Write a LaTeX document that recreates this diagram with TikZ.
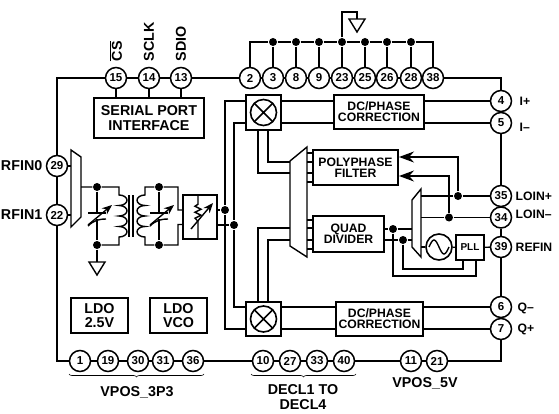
\documentclass[tikz,border=0pt]{standalone}
\usepackage{fontspec}
\setmainfont{Liberation Sans}
\usetikzlibrary{arrows.meta,decorations.pathreplacing}
\tikzset{
    testoG/.style={font=\fontsize{14.3}{14.5}\selectfont\bfseries, align=center, inner sep=0pt},
    testoM/.style={font=\fontsize{12.2}{11}\selectfont\bfseries, align=center, inner sep=0pt},
    piedino/.style={circle, draw, line width=1.5pt, fill=white, minimum size=21pt, inner sep=0pt, font=\fontsize{11.5}{12}\selectfont\bfseries},
    punto/.style={circle, fill=black, inner sep=0pt, minimum size=8pt},
    blocco/.style={draw, line width=1.5pt, inner sep=0pt},
    telaio/.style={line width=2.4pt},
    graffa/.style={line width=0.6pt, decorate, decoration={brace, mirror, amplitude=3pt}},
    prodotto/.style={circle, draw, line width=1.6pt, minimum size=26pt, inner sep=0pt,
        path picture={\draw[line width=1.6pt] (path picture bounding box.south west) -- (path picture bounding box.north east)
        (path picture bounding box.north west) -- (path picture bounding box.south east);}},
    massa/.pic={\draw (-8,0) -- (8,0) -- (0,13) -- cycle;},
    varcap/.pic={
        \draw (-9,-3) -- (9,-3);
        \draw (-9,10) .. controls (-3,4) and (3,3) .. (9,3);
        \draw[-{Stealth[length=10pt,width=8pt]}] (-9,9) -- (15,-11);
    }
}
\begin{document}
\begin{tikzpicture}[x=1pt, y=-1pt, line width=1.4pt, >={Stealth[length=15pt,width=11pt]}]
    \useasboundingbox (0,0) rectangle (559,414);

    % Piedini sui quattro lati
    \foreach \n/\x in {15/116,14/149,13/181,2/250,3/273,8/296,9/319,23/342,25/365,26/387,28/411,38/433} {
        \node[piedino] (p\n) at (\x,78) {\n};
    }
    \foreach \n/\x in {1/80,19/108,30/138,31/163,36/193,10/263,27/290,33/317,40/344,11/411,21/437} {
        \node[piedino] (p\n) at (\x,361) {\n};
    }
    \foreach \n/\y in {29/166,22/215} {
        \node[piedino] (p\n) at (57,\y) {\n};
    }
    \foreach \n/\y in {4/101,5/123,35/196,34/217.5,39/247,6/307,7/329} {
        \node[piedino] (p\n) at (501,\y) {\n};
    }

    % Telaio del chip, da piedino a piedino
    \foreach \a/\b in {15/14,14/13,13/2,2/3,3/8,8/9,9/23,23/25,25/26,26/28,28/38,4/5,5/35,35/34,34/39,39/6,6/7,
        1/19,19/30,30/31,31/36,36/10,10/27,27/33,33/40,40/11,11/21,29/22} {
        \draw[telaio] (p\a) -- (p\b);
    }
    \draw[telaio] (p38) -| (p4);
    \draw[telaio] (p7) |- (p21);
    \draw[telaio] (p22) |- (p1);
    \draw[telaio] (p29) |- (p15);

    % Etichette dei piedini
    \node[testoG, rotate=90, anchor=west] (lblCS) at (116,62) {$\overline{\hbox{CS}}$};
    \node[testoG, rotate=90, anchor=west] (lblSCLK) at (149,62) {SCLK};
    \node[testoG, rotate=90, anchor=west] (lblSDIO) at (181,62) {SDIO};
    \node[testoG, anchor=east] (lblRFa) at (43,166) {RFIN0};
    \node[testoG, anchor=east] (lblRFb) at (43,215) {RFIN1};
    \node[testoM, anchor=west] (lblIp) at (519,101) {I+};
    \node[testoM, anchor=west] (lblIm) at (519,127) {I–};
    \node[testoM, anchor=west] (lblLOp) at (515,196) {LOIN+};
    \node[testoM, anchor=west] (lblLOm) at (515,214) {LOIN–};
    \node[testoM, anchor=west] (lblREF) at (515,247) {REFIN};
    \node[testoM, anchor=west] (lblQm) at (517,308) {Q–};
    \node[testoM, anchor=west] (lblQp) at (517,329) {Q+};

    % Graffe in basso
    \draw[graffa] (69,374) -- (204,374);
    \draw[graffa] (251,374) -- (356,374);
    \node[testoG] (lblV33) at (137,392) {VPOS\_3P3};
    \node[testoG] (lblDECL) at (303,397) {DECL1 TO\\DECL4};
    \node[testoG] (lblV5) at (425,383) {VPOS\_5V};

    % Massa in alto
    \node[punto] (dT3) at (273,42) {};
    \node[punto] (dT8) at (296,42) {};
    \node[punto] (dT9) at (319,42) {};
    \node[punto] (dT23) at (342,42) {};
    \node[punto] (dT25) at (365,42) {};
    \node[punto] (dT26) at (387,42) {};
    \node[punto] (dT28) at (411,42) {};
    \draw (p2) |- (dT3);
    \draw (dT3) -- (dT8) -- (dT9) -- (dT23) -- (dT25) -- (dT26) -- (dT28);
    \draw (dT28) -| (p38);
    \foreach \n in {3,8,9,23,25,26,28} {
        \draw (dT\n) -- (p\n);
    }
    \coordinate (gndT) at (357,19);
    \draw (dT23) |- (gndT |- 0,12) -- (gndT);
    \pic at (gndT) {massa};

    % Blocchi con testo
    \node[blocco, testoG, minimum width=110pt, minimum height=40pt] (spi) at (149,118) {SERIAL PORT\\INTERFACE};
    \node[blocco, testoG, minimum width=57pt, minimum height=35pt] (ldoA) at (99.5,315.5) {LDO\\2.5V};
    \node[blocco, testoG, minimum width=57pt, minimum height=35pt] (ldoB) at (178.5,315.5) {LDO\\VCO};
    \node[blocco, testoM, minimum width=90pt, minimum height=34pt] (dcI) at (379,112) {DC/PHASE\\CORRECTION};
    \node[blocco, testoM, minimum width=87pt, minimum height=34pt] (dcQ) at (379.5,319) {DC/PHASE\\CORRECTION};
    \node[blocco, testoM, minimum width=85pt, minimum height=35pt] (ppf) at (355.5,167.5) {POLYPHASE\\FILTER};
    \node[blocco, testoM, minimum width=71pt, minimum height=36pt] (quad) at (348.5,234) {QUAD\\DIVIDER};
    \node[blocco, font=\fontsize{10}{10}\selectfont\bfseries, minimum width=28pt, minimum height=25pt] (pll) at (470,247.5) {PLL};
    \foreach \n in {15,14,13} {
        \draw (p\n) -- (spi.north -| p\n);
    }

    % Miscelatori
    \node[blocco, minimum width=35pt, minimum height=35pt] (mixI) at (263.5,112.5) {};
    \node[blocco, minimum width=35pt, minimum height=34pt] (mixQ) at (263.5,319) {};
    \node[prodotto] (xI) at (mixI) {};
    \node[prodotto] (xQ) at (mixQ) {};

    % Multiplexer
    \coordinate (muxRa) at (71,150);
    \coordinate (muxRb) at (81,157);
    \coordinate (muxRc) at (81,217);
    \coordinate (muxRd) at (71,227);
    \draw (muxRa) -- (muxRb) -- (muxRc) -- (muxRd) -- cycle;
    \coordinate (muxCa) at (290,161);
    \coordinate (muxCb) at (307,147);
    \coordinate (muxCc) at (307,257);
    \coordinate (muxCd) at (290,246);
    \draw (muxCa) -- (muxCb) -- (muxCc) -- (muxCd) -- cycle;
    \coordinate (muxLa) at (412,200);
    \coordinate (muxLb) at (421,189);
    \coordinate (muxLc) at (421,257);
    \coordinate (muxLd) at (412,247);
    \draw (muxLa) -- (muxLb) -- (muxLc) -- (muxLd) -- cycle;
    \draw (p29) -- (muxRa |- p29);
    \draw (p22) -- (muxRa |- p22);
    \foreach \y in {153,162,173,182} {
        \draw (muxCb |- 0,\y) -- (ppf.west |- 0,\y);
    }
    \foreach \y in {220,228,240,249} {
        \draw (muxCb |- 0,\y) -- (quad.west |- 0,\y);
    }

    % Parte a radiofrequenza
    \node[punto] (dR1) at (97,187) {};
    \node[punto] (dR2) at (97,245) {};
    \node[punto] (dR3) at (159,187) {};
    \node[punto] (dR4) at (159,245) {};
    \draw (muxRb |- dR1) -- (dR1) -- (119,187) -- (119,195)
        arc[start angle=-90, end angle=90, x radius=8, y radius=5.25]
        arc[start angle=-90, end angle=90, x radius=8, y radius=5.25]
        arc[start angle=-90, end angle=90, x radius=8, y radius=5.25]
        arc[start angle=-90, end angle=90, x radius=8, y radius=5.25]
        -- (119,245) -- (dR2);
    \draw (129,195) -- (129,237) (133,195) -- (133,237);
    \draw (217,210) -- (178,210) -- (178,187) -- (dR3) -- (145,187) -- (145,195)
        arc[start angle=-90, end angle=-270, x radius=8, y radius=5.25]
        arc[start angle=-90, end angle=-270, x radius=8, y radius=5.25]
        arc[start angle=-90, end angle=-270, x radius=8, y radius=5.25]
        arc[start angle=-90, end angle=-270, x radius=8, y radius=5.25]
        -- (145,245) -- (dR4) -- (178,245) -- (178,224.5) -- (217,224.5);
    \draw (dR1) -- (97,213) (97,219) -- (dR2);
    \draw (dR3) -- (159,213) (159,219) -- (dR4);
    \pic at (97,216) {varcap};
    \pic at (159,216) {varcap};
    \draw (dR2) -- (97,262);
    \pic at (97,262) {massa};

    % Attenuatore
    \node[blocco, fill=white, minimum width=34pt, minimum height=44pt] (att) at (200,217) {};
    \draw (att.north) ++(-2,0) -- ++(0,10) -- ++(-3,2) -- ++(6,3) -- ++(-6,3) -- ++(6,3) -- ++(-6,3) -- ++(3,3) -- (att.south -| 198,0);
    \draw[-{Stealth[length=10pt,width=8pt]}] (191,229) -- (213,203);
    \node[punto] (dA) at (225,210) {};
    \node[punto] (dB) at (234,225) {};
    \draw (att.east |- dA) -- (dA);
    \draw (att.east |- dB) -- (dB);

    % Collegamenti dei miscelatori
    \draw (mixI.west |- p4) -| (dA);
    \draw (mixI.west |- p5) -| (dB);
    \draw (mixQ.west |- p7) -| (dA);
    \draw (mixQ.west |- p6) -| (dB);
    \draw (mixI.east |- p4) -- (dcI.west |- p4);
    \draw (mixI.east |- p5) -- (dcI.west |- p5);
    \draw (dcI.east |- p4) -- (p4);
    \draw (dcI.east |- p5) -- (p5);
    \draw (mixQ.east |- p6) -- (dcQ.west |- p6);
    \draw (mixQ.east |- p7) -- (dcQ.west |- p7);
    \draw (dcQ.east |- p6) -- (p6);
    \draw (dcQ.east |- p7) -- (p7);
    \coordinate (mixIa) at (258,130);
    \coordinate (mixIb) at (268,130);
    \coordinate (mixQa) at (258,302);
    \coordinate (mixQb) at (268,302);
    \draw (mixIa) |- (muxCa |- 0,173);
    \draw (mixIb) |- (muxCa |- 0,162);
    \draw (mixQa) |- (muxCa |- 0,228);
    \draw (mixQb) |- (muxCa |- 0,240);

    % Oscillatore locale
    \node[punto] (dL1) at (458,196) {};
    \node[punto] (dL2) at (449,217.5) {};
    \coordinate (ppfA) at (399,157);
    \coordinate (ppfB) at (399,176);
    \draw (p35) -- (dL1) -- (muxLb |- p35);
    \draw (p34) -- (dL2) -- (muxLb |- p34);
    \draw[->] (dL1) |- (ppfA);
    \draw[->] (dL2) |- (ppfB);
    \node[circle, draw, line width=1.6pt, minimum size=26pt, inner sep=0pt] (vco) at (439,247) {};
    \draw (429,247) sin (434,240) cos (439,247) sin (444,254) cos (449,247);
    \draw (muxLc |- vco) -- (vco);
    \draw (vco) -- (pll);
    \draw (pll) -- (p39);
    \node[punto] (dQ1) at (393,229) {};
    \node[punto] (dQ2) at (403,240) {};
    \draw (quad.east |- dQ1) -- (dQ1) -- (muxLa |- dQ1);
    \draw (quad.east |- dQ2) -- (dQ2) -- (muxLa |- dQ2);
    \coordinate (pllA) at (476,260);
    \coordinate (pllB) at (463,260);
    \draw (dQ1) |- (pllA |- 0,276) -- (pllA);
    \draw (dQ2) |- (pllB |- 0,269) -- (pllB);

\end{tikzpicture}
\end{document}
